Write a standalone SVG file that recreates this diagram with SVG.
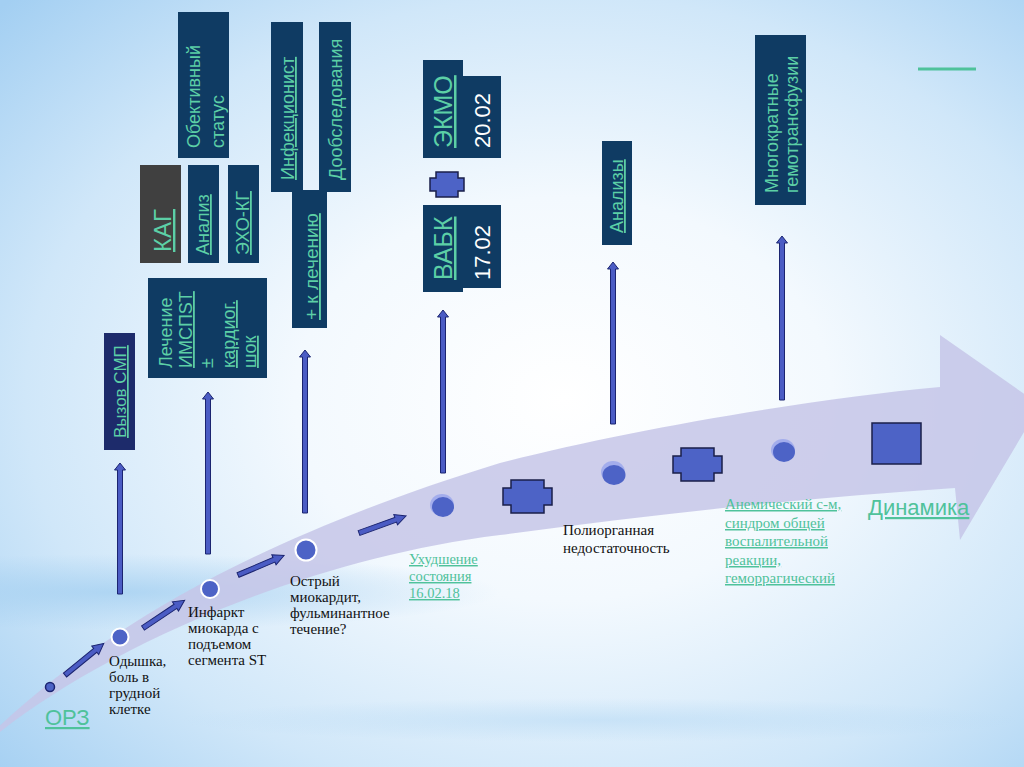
<svg xmlns="http://www.w3.org/2000/svg" width="1024" height="767" viewBox="0 0 1024 767">
<defs>
<radialGradient id="bg" cx="0.55" cy="0.52" r="0.75">
<stop offset="0" stop-color="#ffffff"/>
<stop offset="0.35" stop-color="#f3f9fe"/>
<stop offset="0.7" stop-color="#d0e7f9"/>
<stop offset="1" stop-color="#a3cff2"/>
</radialGradient>
<radialGradient id="streak" cx="0.5" cy="0.5" r="0.5">
<stop offset="0" stop-color="#9fcdf0" stop-opacity="0.7"/>
<stop offset="1" stop-color="#9fcdf0" stop-opacity="0"/>
</radialGradient>
<path id="darr" d="M0 -2.5 H39 V-5.5 L50 0 L39 5.5 V2.5 H0 Z"/>
<style>
.box{fill:#0f3b63}
.bt{font-family:"Liberation Sans",Arial,sans-serif;font-size:18px;fill:#5ccfa6}
.u{text-decoration:underline}
.wt{font-family:"Liberation Sans",Arial,sans-serif;font-size:22px;fill:#ffffff}
.lab{font-family:"Liberation Serif","Times New Roman","DejaVu Serif",serif;font-size:15px;fill:#111111}
.ml{font-family:"Liberation Serif","Times New Roman","DejaVu Serif",serif;font-size:15px;fill:#4fc29b;text-decoration:underline}
.ms{font-family:"Liberation Sans",Arial,sans-serif;font-size:22px;fill:#4fc29b;text-decoration:underline}
.arr{fill:#4b5cc4;stroke:#1b2470;stroke-width:1}
.dot{fill:#4d63c6;stroke:#ffffff;stroke-width:2}
.shp{fill:#4d63c6;stroke:#1a1f4a;stroke-width:1.5}
.halo{fill:#a3adec}
</style>
</defs>
<rect x="0" y="0" width="1024" height="767" fill="url(#bg)"/>
<ellipse cx="120" cy="592" rx="380" ry="38" fill="url(#streak)"/>
<ellipse cx="600" cy="720" rx="420" ry="22" fill="url(#streak)" opacity="0.5"/>

<g id="timeline-arrow">
<path d="M-10 735 C100 630 250 540 500 463 C620 432 800 400 940 387 L940 335 L1040 405 L960 540 L955 488 C800 498 650 515 500 535 C300 560 100 650 -10 740 Z" fill="#c6c6e8" opacity="0.85"/>
</g>

<g id="connectors">
<path class="arr" d="M117.5 594 V470 H114.5 L120 463 L125.5 470 H122.5 V594 Z"/>
<path class="arr" d="M205.5 554 V399 H202.5 L208 392 L213.5 399 H210.5 V554 Z"/>
<path class="arr" d="M302.5 513 V357 H299.5 L305 350 L310.5 357 H307.5 V513 Z"/>
<path class="arr" d="M440.5 473 V317 H437.5 L443 310 L448.5 317 H445.5 V473 Z"/>
<path class="arr" d="M610.5 424 V269 H607.5 L613 262 L618.5 269 H615.5 V424 Z"/>
<path class="arr" d="M779.5 400 V243 H776.5 L782 236 L787.5 243 H784.5 V400 Z"/>
<use href="#darr" class="arr" transform="translate(65 675) rotate(-39.2)"/>
<use href="#darr" class="arr" transform="translate(143 628) rotate(-33.7)"/>
<use href="#darr" class="arr" transform="translate(238 575) rotate(-22.9)"/>
<use href="#darr" class="arr" transform="translate(359 533) rotate(-19.9)"/>
</g>

<g id="n-obektivny">
<rect class="box" x="178" y="12" width="51" height="146"/>
<text class="bt" transform="translate(200 148) rotate(-90)">Обективный</text>
<text class="bt" transform="translate(224 148) rotate(-90)">статус</text>
</g>
<g id="n-kag">
<rect x="140" y="165" width="41" height="98" fill="#404040"/>
<text class="bt u" style="font-size:24px" transform="translate(171 252) rotate(-90)">КАГ</text>
</g>
<g id="n-analiz">
<rect class="box" x="188" y="165" width="31" height="98"/>
<text class="bt u" transform="translate(209 255) rotate(-90)">Анализ</text>
</g>
<g id="n-eho">
<rect class="box" x="228" y="165" width="31" height="98"/>
<text class="bt u" transform="translate(249 255) rotate(-90)">ЭХО-КГ</text>
</g>
<g id="n-lechenie">
<rect class="box" x="148" y="278" width="119" height="100"/>
<text class="bt" transform="translate(172 368) rotate(-90)">Лечение</text>
<text class="bt u" transform="translate(192 368) rotate(-90)">ИМСПST</text>
<text class="bt" transform="translate(213 368) rotate(-90)">±</text>
<text class="bt u" transform="translate(235 368) rotate(-90)">кардиог.</text>
<text class="bt u" transform="translate(256 368) rotate(-90)">шок</text>
</g>
<g id="n-smp">
<rect x="104" y="333" width="31" height="117" fill="#1d2b6b"/>
<text class="bt u" style="font-size:17px" transform="translate(126 438) rotate(-90)">Вызов СМП</text>
</g>
<g id="n-infekc">
<rect class="box" x="271" y="22" width="32" height="170"/>
<text class="bt u" transform="translate(294 180) rotate(-90)">Инфекционист</text>
</g>
<g id="n-doobsl">
<rect class="box" x="319" y="22" width="32" height="170"/>
<text class="bt" transform="translate(342 180) rotate(-90)">Дообследования</text>
</g>
<g id="n-klecheniyu">
<rect class="box" x="292" y="190" width="35" height="138"/>
<text class="bt u" style="font-size:19px" transform="translate(318 320) rotate(-90)">+ к лечению</text>
</g>
<g id="n-ekmo">
<rect class="box" x="423" y="60" width="40" height="98"/>
<rect class="box" x="462" y="76" width="39" height="82"/>
<text class="bt u" style="font-size:25px" transform="translate(452 148) rotate(-90)">ЭКМО</text>
<text class="wt" transform="translate(490 148) rotate(-90)">20.02</text>
</g>
<g id="n-cross-small">
<path class="shp" d="M436 172 H458 V178 H464 V191 H458 V197 H436 V191 H430 V178 H436 Z"/>
</g>
<g id="n-vabk">
<rect class="box" x="423" y="205" width="40" height="87"/>
<rect class="box" x="462" y="205" width="39" height="83"/>
<text class="bt u" style="font-size:25px" transform="translate(452 280) rotate(-90)">ВАБК</text>
<text class="wt" transform="translate(490 280) rotate(-90)">17.02</text>
</g>
<g id="n-analizy">
<rect class="box" x="602" y="141" width="30" height="104"/>
<text class="bt u" transform="translate(623 233) rotate(-90)">Анализы</text>
</g>
<g id="n-gemo">
<rect class="box" x="755" y="35" width="51" height="170"/>
<text class="bt" transform="translate(778 193) rotate(-90)">Многократные</text>
<text class="bt" transform="translate(798 193) rotate(-90)">гемотрансфузии</text>
</g>
<g id="n-greenline">
<line x1="918" y1="69" x2="976" y2="69" stroke="#4fc29b" stroke-width="3"/>
</g>

<g id="n-orz">
<circle cx="50" cy="687" r="4.5" fill="#4d63c6" stroke="#1b2470" stroke-width="1.5"/>
<text class="ms" x="45" y="725">ОРЗ</text>
</g>
<g id="n-odyshka">
<circle class="dot" cx="120" cy="637" r="8.5"/>
<text class="lab"><tspan x="109" y="666">Одышка,</tspan><tspan x="109" y="682">боль в</tspan><tspan x="109" y="698">грудной</tspan><tspan x="109" y="714">клетке</tspan></text>
</g>
<g id="n-infarkt">
<circle class="dot" cx="210" cy="589" r="9"/>
<text class="lab"><tspan x="188" y="617">Инфаркт</tspan><tspan x="188" y="633">миокарда с</tspan><tspan x="188" y="649">подъемом</tspan><tspan x="188" y="665">сегмента ST</tspan></text>
</g>
<g id="n-miokardit">
<circle class="dot" cx="306" cy="550" r="10.5"/>
<text class="lab"><tspan x="290" y="586">Острый</tspan><tspan x="290" y="602">миокардит,</tspan><tspan x="290" y="618">фульминантное</tspan><tspan x="290" y="634">течение?</tspan></text>
</g>
<g id="n-uhudshenie">
<ellipse class="halo" cx="442" cy="505" rx="12" ry="11"/>
<ellipse cx="443" cy="507" rx="11" ry="10" fill="#4d63c6"/>
<text class="ml" style="font-size:14.5px"><tspan x="409" y="564">Ухудшение</tspan><tspan x="409" y="581">состояния</tspan><tspan x="409" y="598">16.02.18</tspan></text>
</g>
<g id="n-cross1">
<path class="shp" d="M511 480 H544 V488 H552 V505 H544 V513 H511 V505 H503 V488 H511 Z"/>
</g>
<g id="n-poliorgan">
<ellipse class="halo" cx="613" cy="472" rx="12" ry="11"/>
<ellipse cx="614" cy="475" rx="11.5" ry="10" fill="#4d63c6"/>
<text class="lab"><tspan x="563" y="535">Полиорганная</tspan><tspan x="563" y="553">недостаточность</tspan></text>
</g>
<g id="n-cross2">
<path class="shp" d="M681 448 H714 V456 H722 V473 H714 V481 H681 V473 H673 V456 H681 Z"/>
</g>
<g id="n-anemich">
<ellipse class="halo" cx="783" cy="450" rx="12" ry="11"/>
<ellipse cx="784" cy="452" rx="11" ry="10" fill="#4d63c6"/>
<text class="ml"><tspan x="725" y="509">Анемический с-м,</tspan><tspan x="725" y="528">синдром общей</tspan><tspan x="725" y="546">воспалительной</tspan><tspan x="725" y="565">реакции,</tspan><tspan x="725" y="583">геморрагический</tspan></text>
</g>
<g id="n-dinamika">
<rect class="shp" x="872" y="423" width="49" height="41"/>
<text class="ms" x="868" y="515">Динамика</text>
</g>
</svg>
